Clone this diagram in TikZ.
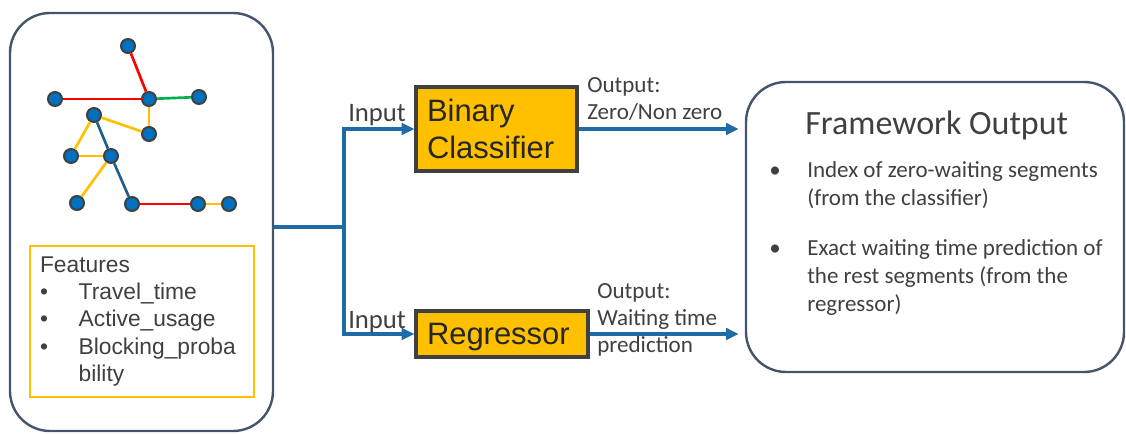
\documentclass[tikz,border=0pt]{standalone}
\usepackage{fontspec}
\setmainfont{Liberation Sans}
\newfontfamily\carlito{Carlito}
\usetikzlibrary{arrows.meta}

\definecolor{slate}{HTML}{44546A}
\definecolor{flowblue}{HTML}{1F6BA5}
\definecolor{amber}{HTML}{FFC000}
\definecolor{dotblue}{HTML}{0070C0}
\definecolor{rim}{HTML}{404040}
\definecolor{ink}{HTML}{404040}
\definecolor{deepink}{HTML}{262626}
\definecolor{ered}{HTML}{FF0000}
\definecolor{egreen}{HTML}{00B050}
\definecolor{eyellow}{HTML}{FFC000}
\definecolor{eblue}{HTML}{1F5F8B}

\tikzset{
  panel/.style={draw=slate, line width=1.8pt, rounded corners=30pt},
  featframe/.style={draw=amber, line width=1.6pt, align=left, inner xsep=7.5pt,
    text width=153pt, text=ink,
    font=\fontsize{17.1pt}{20.6pt}\selectfont},
  modelbox/.style={draw=rim, fill=amber, line width=2.4pt, align=left,
    inner xsep=8.25pt, text=deepink,
    font=\fontsize{23.2pt}{27.5pt}\selectfont},
  stop/.style={circle, fill=dotblue, draw=rim, line width=1.5pt,
    minimum size=10.5pt, inner sep=0pt},
  seg/.style={line width=2pt},
  flow/.style={draw=flowblue, line width=2.5pt,
    -{Triangle[length=9.5pt,width=8.5pt]}},
  link/.style={draw=flowblue, line width=2.5pt},
  lbl/.style={inner sep=0pt, text=ink, align=left},
}

\begin{document}
\begin{tikzpicture}[x=0.75pt,y=-0.75pt]
\useasboundingbox (0,0) rectangle (1126,434);

% input panel with the network sketch and the feature list
\node[panel, minimum width=197.25pt, minimum height=313.5pt] (leftbox) at (141.5,222) {};

\node[stop] (n1) at (128,46) {};
\node[stop] (n2) at (55,99) {};
\node[stop] (n3) at (149,99) {};
\node[stop] (n4) at (199,97) {};
\node[stop] (n5) at (94,115) {};
\node[stop] (n6) at (149,134) {};
\node[stop] (n7) at (71,156) {};
\node[stop] (n8) at (111,156) {};
\node[stop] (n9) at (77,203) {};
\node[stop] (n10) at (132,204) {};
\node[stop] (n11) at (198,204) {};
\node[stop] (n12) at (229,204) {};

\draw[seg, ered] (n1) -- (n3);
\draw[seg, ered] (n2) -- (n3);
\draw[seg, ered] (n10) -- (n11);
\draw[seg, egreen] (n3) -- (n4);
\draw[seg, eyellow] (n3) -- (n6);
\draw[seg, eyellow] (n5) -- (n6);
\draw[seg, eyellow] (n5) -- (n7);
\draw[seg, eyellow] (n7) -- (n8);
\draw[seg, eyellow] (n8) -- (n9);
\draw[seg, eyellow] (n11) -- (n12);
\draw[seg, eblue] (n5) -- (n8);
\draw[seg, eblue] (n8) -- (n10);

\node[featframe, minimum height=113.25pt] (featbox) at (142,321.5)
  {Features\\
   \makebox[29pt][l]{•}Travel\_time\\
   \makebox[29pt][l]{•}Active\_usage\\
   \makebox[29pt][l]{•}Blocking\_proba\\
   \hspace*{29pt}bility};

% the two models
\node[modelbox, text width=104.25pt, minimum height=63pt] (bc) at (496.5,129)
  {Binary\\Classifier};
\node[modelbox, text width=112.5pt, minimum height=34.5pt, text depth=0pt] (reg) at (502,334)
  {Regressor};

% framework output panel
\node[panel, minimum width=283.5pt, minimum height=217.5pt] (fo) at (935,227) {};
\node[lbl, anchor=base west, font=\carlito\fontsize{25.5pt}{30pt}\selectfont] (fotitle) at (805,135)
  {Framework Output};
\node[lbl, anchor=north west, font=\carlito\fontsize{17.25pt}{21pt}\selectfont] (folist) at (769,161)
  {\makebox[28.5pt][l]{•}Index of zero-waiting segments\\
   \hspace*{28.5pt}(from the classifier)\\[17pt]
   \makebox[28.5pt][l]{•}Exact waiting time prediction of\\
   \hspace*{28.5pt}the rest segments (from the\\
   \hspace*{28.5pt}regressor)};

% connectors
\coordinate (jn) at (344,227);
\draw[link] (leftbox.east |- jn) -- (jn);
\draw[flow] (jn) |- (bc.west);
\draw[flow] (jn) |- (reg.west);
\draw[flow, shorten >=4.5pt] (bc.east) -- (bc.east -| fo.west);
\draw[flow, shorten >=4.5pt] (reg.east) -- (reg.east -| fo.west);

% connector labels
\node[lbl, anchor=base west, font=\carlito\fontsize{20pt}{24pt}\selectfont] (in1) at (348,122) {Input};
\node[lbl, anchor=base west, font=\carlito\fontsize{20pt}{24pt}\selectfont] (in2) at (348,328) {Input};
\node[lbl, anchor=north west, font=\carlito\fontsize{17.3pt}{20.25pt}\selectfont] (out1) at (587,77)
  {Output:\\Zero/Non zero};
\node[lbl, anchor=north west, font=\carlito\fontsize{17.3pt}{20.25pt}\selectfont] (out2) at (597,283)
  {Output:\\Waiting time\\prediction};
\end{tikzpicture}
\end{document}
